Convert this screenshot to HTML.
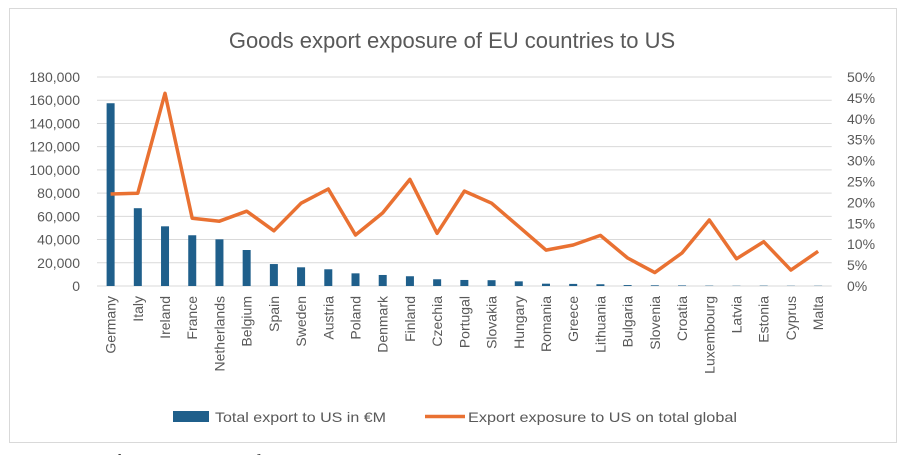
<!DOCTYPE html>
<html><head><meta charset="utf-8"><style>
body{margin:0;width:904px;height:455px;overflow:hidden;background:#fff;font-family:"Liberation Sans",sans-serif}
svg text{font-family:"Liberation Sans",sans-serif;fill:#595959}
</style></head><body>
<svg id="chart" width="904" height="455" viewBox="0 0 904 455">
<rect x="9.5" y="8.5" width="887" height="434" fill="#fff" stroke="#d9d9d9"/>
<text x="452" y="48" font-size="22" text-anchor="middle">Goods export exposure of EU countries to US</text>
<g id="grid"></g><g id="bars"></g><g id="line"></g><g id="ylab"></g><g id="y2lab"></g><g id="xlab"></g>
<g>
<rect x="173" y="411" width="36" height="11" fill="#1f5f8b"/>
<text x="215" y="422" font-size="14" textLength="171" lengthAdjust="spacingAndGlyphs">Total export to US in €M</text>
<line x1="425" y1="416.5" x2="465" y2="416.5" stroke="#e97132" stroke-width="3.5"/>
<text x="468" y="422" font-size="14" textLength="269" lengthAdjust="spacingAndGlyphs">Export exposure to US on total global</text>
</g>
<text x="10" y="466" font-size="17" style="font-family:'Liberation Serif',serif;fill:#222">Figure 2 – Goods export exposure of EU countries to US, 2023, Eurostat</text>
</svg>
<script>
const categories=["Germany","Italy","Ireland","France","Netherlands","Belgium","Spain","Sweden","Austria","Poland","Denmark","Finland","Czechia","Portugal","Slovakia","Hungary","Romania","Greece","Lithuania","Bulgaria","Slovenia","Croatia","Luxembourg","Latvia","Estonia","Cyprus","Malta"];
const exportsEUR=[157400,67000,51400,43700,40200,31000,18900,16100,14400,10900,9500,8400,5800,5200,5000,4000,2000,1800,1500,800,600,500,300,200,300,200,200];
const exposurePct=[22.0,22.2,46.1,16.2,15.5,17.9,13.2,19.8,23.2,12.2,17.5,25.5,12.6,22.7,19.8,14.2,8.6,9.8,12.1,6.7,3.2,7.9,15.8,6.5,10.6,3.8,8.3];
const leftTicks=[0,20000,40000,60000,80000,100000,120000,140000,160000,180000];
const rightTicks=[0,5,10,15,20,25,30,35,40,45,50];
const NS="http://www.w3.org/2000/svg";
const x0=97,x1=831.7,yb=286,yt=77;
const step=(x1-x0)/categories.length;
const xc=i=>x0+step*(i+0.5);
const yL=v=>yb-(v/180000)*(yb-yt);
const yR=v=>yb-(v/50)*(yb-yt);
function mk(t,a,p){const e=document.createElementNS(NS,t);for(const k in a)e.setAttribute(k,a[k]);p.appendChild(e);return e;}
const g=document.getElementById('grid'),yl=document.getElementById('ylab'),y2=document.getElementById('y2lab');
leftTicks.forEach(v=>{
 const l=mk('line',{x1:x0,x2:x1,y1:yL(v),y2:yL(v),stroke:'#d9d9d9','stroke-width':1},g);
 
 
 const t=mk('text',{x:80,y:yL(v)+5,'font-size':14,'text-anchor':'end'},yl);
 t.textContent=v.toLocaleString('en-US');
 
 
});
rightTicks.forEach(v=>{
 const t=mk('text',{x:847,y:yR(v)+5,'font-size':14},y2);
 t.textContent=v+'%';
 
 
});
const bg=document.getElementById('bars'),xg=document.getElementById('xlab');
categories.forEach((c,i)=>{
 const b=mk('rect',{x:xc(i)-4,y:yL(exportsEUR[i]),width:8,height:yb-yL(exportsEUR[i]),fill:'#1f5f8b'},bg);
 
 
 const t=mk('text',{x:0,y:0,'font-size':14,'text-anchor':'end',transform:`translate(${xc(i)+5},296) rotate(-90)`},xg);
 t.textContent=c;
 
 
});
const pts=exposurePct.map((v,i)=>xc(i).toFixed(1)+','+yR(v).toFixed(1)).join(' ');
const pl=mk('polyline',{points:pts,fill:'none',stroke:'#e97132','stroke-width':3.5,'stroke-linejoin':'round'},document.getElementById('line'));


</script>
</body></html>
